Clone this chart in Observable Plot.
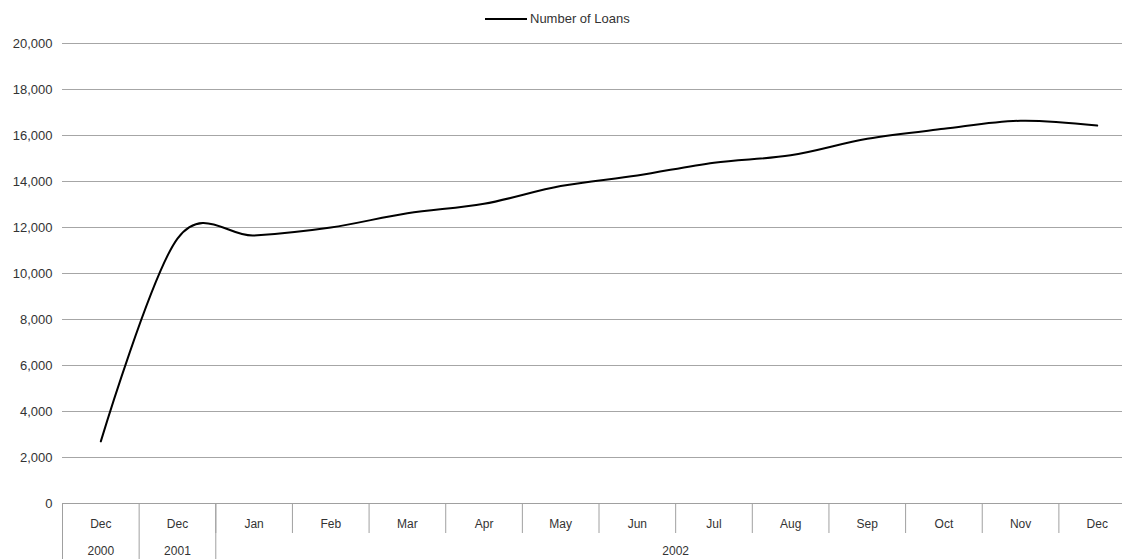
<!DOCTYPE html>
<html>
<head>
<meta charset="utf-8">
<script src="https://cdn.jsdelivr.net/npm/d3@7"></script>
<script src="https://cdn.jsdelivr.net/npm/@observablehq/plot@0.6"></script>
<style>
  html, body { margin: 0; padding: 0; background: #fff; }
  #legend {
    height: 30px; position: relative;
    font-family: "Liberation Sans", Arial, sans-serif; font-size: 13px; color: #333;
  }
  #legend .item { position: absolute; left: 485px; top: 11px; display: flex; align-items: center; }
  #legend .swatch { width: 42px; height: 0; border-top: 2px solid #000; margin-right: 3px; }
</style>
</head>
<body>
<div id="legend"><div class="item"><span class="swatch"></span><span>Number of Loans</span></div></div>
<div id="chart"></div>
<script>
// Month labels along the x axis
const months = ["Dec", "Dec", "Jan", "Feb", "Mar", "Apr", "May", "Jun", "Jul", "Aug", "Sep", "Oct", "Nov", "Dec"];
// Year groups: label and index of the centre of each group
const years = ["2000", "2001", "2002"];
const yearCenters = [0, 1, 7.5];
// Number of loans at each period
const loans = [2700, 11520, 11650, 12000, 12620, 13030, 13800, 14260, 14820, 15140, 15860, 16290, 16640, 16430];
const yTicks = [0, 2000, 4000, 6000, 8000, 10000, 12000, 14000, 16000, 18000, 20000];

const data = loans.map((v, i) => ({i, v}));
const monthBounds = d3.range(2, 14).map(i => i - 0.5);   // dividers between months of 2002
const yearBounds = [-0.5, 0.5, 1.5];                       // dividers between year groups

const sans = "'Liberation Sans', Arial, sans-serif";
const narrow = "'Liberation Sans Narrow', 'Arial Narrow', sans-serif";

const chart = Plot.plot({
  width: 1122,
  height: 529,
  marginTop: 13,
  marginBottom: 56,
  marginLeft: 62,
  marginRight: 0,
  style: {fontFamily: sans, fontSize: "13px", color: "#333", background: "#fff"},
  x: {domain: [-0.5, 13.33], axis: null},
  y: {domain: [0, 20000], axis: null},
  marks: [
    Plot.gridY(yTicks, {stroke: "#a6a6a6", strokeOpacity: 1}),
    Plot.axisY({ticks: yTicks, tickSize: 0, tickPadding: 10, tickFormat: d3.format(","), fill: "#333", label: null}),
    // month dividers and year-group dividers below the baseline
    Plot.axisX({ticks: monthBounds, tickSize: 30, tickFormat: () => "", stroke: "#a0a0a0", label: null}),
    Plot.axisX({ticks: yearBounds, tickSize: 60, tickFormat: () => "", stroke: "#a0a0a0", label: null}),
    // month labels
    Plot.axisX({ticks: d3.range(14), tickSize: 0, tickPadding: 16, tickFormat: i => months[i],
                fill: "#333", fontFamily: narrow, fontSize: 12, label: null}),
    // year labels
    Plot.axisX({ticks: yearCenters, tickSize: 0, tickPadding: 43, tickFormat: (d, k) => years[k],
                fill: "#333", fontFamily: narrow, fontSize: 12, label: null}),
    Plot.ruleY([0], {stroke: "#a0a0a0"}),
    Plot.line(data, {x: "i", y: "v", stroke: "#000", strokeWidth: 2, curve: d3.curveCatmullRom.alpha(0)})
  ]
});
document.getElementById("chart").append(chart);
</script>
</body>
</html>
